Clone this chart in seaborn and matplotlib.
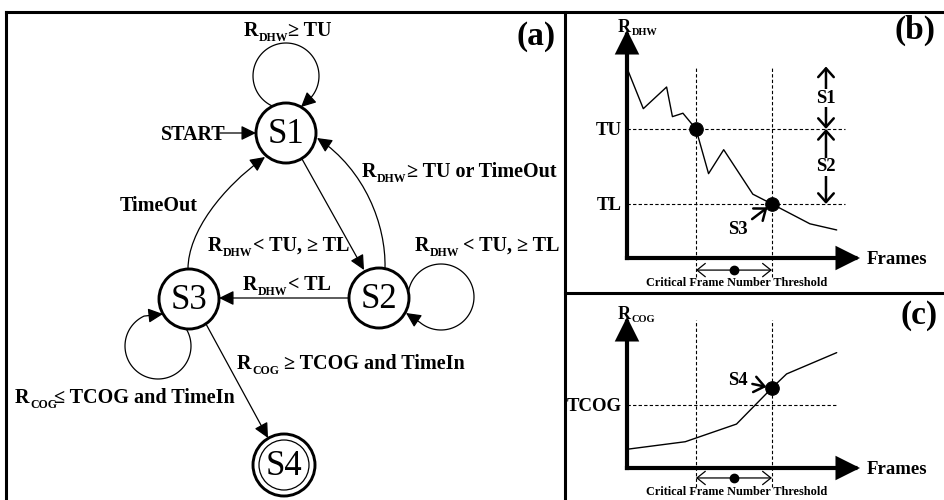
import matplotlib
matplotlib.use("Agg")
import matplotlib.pyplot as plt
import matplotlib.transforms as mtrans
from matplotlib.patches import Circle, FancyArrowPatch
from matplotlib.path import Path
import numpy as np
import seaborn as sns

sns.set_theme(style="white")
plt.rcParams["font.family"] = ["Liberation Serif", "DejaVu Serif"]
plt.rcParams["text.color"] = "black"

# ---------------- data ----------------
frames_b = [0.5, 7, 17, 19.5, 24, 29.6, 35, 41.5, 54, 62.2, 78.5, 90]
r_dhw = [82, 65.5, 75, 62, 63.5, 56.6, 37, 47.5, 28, 23.7, 15, 12.3]
frames_c = [0, 25, 47, 62.2, 68.5, 90]
r_cog = [12.4, 17.4, 29.1, 53, 62.3, 76.4]
TU, TL, TCOG = 56.6, 23.7, 41.7
frame_window = [29.6, 62.2]
state_names = ["S1", "S2", "S3", "S4"]
axis_names_b = ("R", "DHW")
axis_names_c = ("R", "COG")
x_label = "Frames"
window_label = "Critical Frame Number Threshold"
panel_labels = ["(a)", "(b)", "(c)"]

# ---------------- figure ----------------
fig = plt.figure(figsize=(9.45, 5.0), dpi=100)
bg = fig.add_axes([0, 0, 1, 1])
bg.set_xlim(0, 945)
bg.set_ylim(500, 0)
bg.axis("off")
renderer = fig.canvas.get_renderer()

LBL = 14.5
SUB = 8.5


def rich(ax, x, y, pieces, ha="left", dx=0, dy=0, zorder=8):
    X, Y = ax.transData.transform((x, y))
    X += dx
    Y -= dy
    arts = []
    for txt, fs, ddy, gap in pieces:
        t = fig.text(0, 0, txt, fontsize=fs, fontweight="bold", va="baseline",
                     ha="left", color="black",
                     transform=mtrans.IdentityTransform(), zorder=zorder)
        w = t.get_window_extent(renderer).width
        arts.append((t, w, ddy, gap))
    total = sum(w + g for _, w, _, g in arts)
    cur = X if ha == "left" else (X - total / 2 if ha == "center" else X - total)
    for t, w, ddy, gap in arts:
        cur += gap
        t.set_position((cur, Y - ddy))
        cur += w + 0.5


def sub_label(rest, sub="DHW", gap=0):
    return [("R", LBL, 0, 0), (sub, SUB, 5, 0), (rest, LBL, 0, gap)]


# frames of panels
for xs, ys in [((6, 945), (12, 12)), ((6, 6), (12, 502)), ((565, 565), (12, 502)),
               ((565, 945), (293, 293))]:
    bg.plot(xs, ys, color="black", lw=2.2, solid_capstyle="projecting")

# ---------------- panel (a): state machine ----------------
node_pos = {"S1": (286, 133), "S2": (379, 298), "S3": (189, 299), "S4": (284, 465)}
R = 30
head = "-|>,head_length=0.45,head_width=0.22"
for name in state_names:
    x, y = node_pos[name]
    r = R + 1 if name == "S4" else R
    bg.add_patch(Circle((x, y), r, fc="white", ec="black", lw=2.1, zorder=5))
    if name == "S4":
        bg.add_patch(Circle((x, y), 25, fc="none", ec="black", lw=0.9, zorder=5))
    bg.text(x, y + 10, name, fontsize=25, ha="center", va="baseline", zorder=6)


def straight(p0, p1):
    bg.add_patch(FancyArrowPatch(p0, p1, arrowstyle=head, mutation_scale=20, lw=0.9,
                                 color="black", shrinkA=0, shrinkB=0, zorder=7))


def curve(pts):
    path = Path(pts, [Path.MOVETO, Path.CURVE4, Path.CURVE4, Path.CURVE4])
    bg.add_patch(FancyArrowPatch(path=path, arrowstyle=head, mutation_scale=20, lw=0.9,
                                 color="black", zorder=7))


def loop(center, r, t0, t1, tip):
    t = np.radians(np.linspace(t0, t1, 80))
    pts = list(zip(center[0] + r * np.cos(t), center[1] + r * np.sin(t))) + [tip]
    bg.add_patch(FancyArrowPatch(path=Path(pts), arrowstyle=head, mutation_scale=20,
                                 lw=0.9, color="black", zorder=7))


straight((220, 133), (256, 133))                 # START
straight((302, 159), (364, 270))                 # S1 -> S2
straight((349, 298), (219, 298))                 # S2 -> S3
straight((206, 324), (268, 438))                 # S3 -> S4
curve([(385, 268), (386, 225), (365, 170), (317, 138)])   # S2 -> S1
curve([(188, 269), (188, 232), (222, 188), (265, 157)])   # S3 -> S1
loop((286, 76), 33, 114, 410, (301, 107))        # S1 self
loop((441, 297), 33, 190, 490, (406, 313))       # S2 self
loop((158, 346), 33, -31, 245, (163, 314))       # S3 self

bg.text(226, 140, "START", fontsize=LBL, fontweight="bold", ha="right", va="baseline", zorder=8)
bg.text(120, 211, "TimeOut", fontsize=LBL, fontweight="bold", ha="left", va="baseline", zorder=8)
rich(bg, 287, 36, sub_label("≥ TU"), ha="center")
rich(bg, 362, 177, sub_label("≥ TU or TimeOut"))
rich(bg, 208, 251, sub_label("< TU, ≥ TL"))
rich(bg, 415, 251, sub_label("< TU, ≥ TL", gap=3))
rich(bg, 243, 290, sub_label("< TL"))
rich(bg, 237, 369, sub_label("≥ TCOG and TimeIn", sub="COG", gap=5))
rich(bg, 15, 403, sub_label("≤ TCOG and TimeIn", sub="COG", gap=-4))

bg.text(556, 45, panel_labels[0], fontsize=24, fontweight="bold", ha="right", va="baseline")
bg.text(935, 39, panel_labels[1], fontsize=24, fontweight="bold", ha="right", va="baseline")
bg.text(938, 324, panel_labels[2], fontsize=24, fontweight="bold", ha="right", va="baseline")

# ---------------- panels (b) and (c) ----------------
ax_b = fig.add_axes([627 / 945, (500 - 258) / 500, 233 / 945, 228 / 500])
ax_c = fig.add_axes([627 / 945, (500 - 468) / 500, 233 / 945, 151 / 500])

dash = (0, (3, 2))
axis_arrow = "-|>,head_length=0.4,head_width=0.2"


def frame_axes(ax, ylab, thresholds, hline_end, vtop, vbot, arrow_y, text_y):
    ax.set_xlim(0, 100)
    ax.set_ylim(0, 100)
    ax.axis("off")
    for xy in [(100, 0), (0, 100)]:
        ax.annotate("", xy=xy, xytext=(0, 0), annotation_clip=False,
                    arrowprops=dict(arrowstyle=axis_arrow, lw=3, color="black",
                                    mutation_scale=32, shrinkA=0, shrinkB=0,
                                    joinstyle="miter", capstyle="projecting"))
    for name, val in thresholds:
        ax.plot([0, hline_end], [val, val], color="black", lw=0.8, ls=dash, clip_on=False)
        off = mtrans.offset_copy(ax.transData, fig=fig, x=-5, y=-6, units="dots")
        ax.text(0, val, name, transform=off, fontsize=13.5, fontweight="bold",
                ha="right", va="baseline")
    for f in frame_window:
        ax.plot([f, f], [vbot, vtop], color="black", lw=0.8, ls=dash, clip_on=False)
    ax.annotate("", xy=(frame_window[1], arrow_y), xytext=(frame_window[0], arrow_y),
                annotation_clip=False,
                arrowprops=dict(arrowstyle="<->,head_length=0.5,head_width=0.4",
                                mutation_scale=12, lw=0.9, color="black",
                                shrinkA=0, shrinkB=0))
    mid = sum(frame_window) / 2
    ax.plot([mid], [arrow_y], "o", color="black", ms=6, clip_on=False)
    ax.text(mid + 1, text_y, window_label, fontsize=8.8, fontweight="bold",
            ha="center", va="center")
    offx = mtrans.offset_copy(ax.transData, fig=fig, x=7, y=-6, units="dots")
    ax.text(100, 0, x_label, transform=offx, fontsize=13.5, fontweight="bold",
            ha="left", va="baseline")
    rich(ax, 0, 100, [(ylab[0], 13, 0, 0), (ylab[1], 7.5, 3, 0)], dx=-9, dy=2)


# (b)
sns.lineplot(x=frames_b, y=r_dhw, ax=ax_b, color="black", lw=1.0)
sns.scatterplot(x=frame_window, y=[TU, TL], ax=ax_b, color="black", s=95,
                edgecolor="black", zorder=5)
frame_axes(ax_b, axis_names_b, [("TU", TU), ("TL", TL)], 93.6, 84, -8.3, -5.3, -11)

region_top = 84
for name, lo, hi in [("S1", TU, region_top), ("S2", TL, TU)]:
    ax_b.annotate("", xy=(85.4, hi), xytext=(85.4, lo), annotation_clip=False,
                  arrowprops=dict(arrowstyle="<->,head_length=0.45,head_width=0.4",
                                  mutation_scale=14, lw=1.8, color="black",
                                  shrinkA=0, shrinkB=0))
    offs = mtrans.offset_copy(ax_b.transData, fig=fig, x=0, y=-5, units="dots")
    ax_b.text(85.4, (lo + hi) / 2, name, transform=offs, fontsize=13.5,
              fontweight="bold", ha="center", va="baseline", zorder=6,
              bbox=dict(fc="white", ec="none", pad=0.5))

ax_b.annotate("S3", xy=(frame_window[1], TL), xytext=(-34, -26),
              textcoords="offset pixels", fontsize=13.5, fontweight="bold",
              ha="center", va="center", annotation_clip=False,
              arrowprops=dict(arrowstyle="->,head_length=0.45,head_width=0.35",
                              mutation_scale=16, lw=1.8, color="black",
                              shrinkA=1, shrinkB=4))

# (c)
sns.lineplot(x=frames_c, y=r_cog, ax=ax_c, color="black", lw=1.0)
s4_val = r_cog[frames_c.index(frame_window[1])]
sns.scatterplot(x=[frame_window[1]], y=[s4_val], ax=ax_c, color="black", s=95,
                edgecolor="black", zorder=5)
frame_axes(ax_c, axis_names_c, [("TCOG", TCOG)], 90.6, 98, -12.6, -6.6, -15.9)
ax_c.annotate("S4", xy=(frame_window[1], s4_val), xytext=(-34, 7),
              textcoords="offset pixels", fontsize=13.5, fontweight="bold",
              ha="center", va="center", annotation_clip=False,
              arrowprops=dict(arrowstyle="->,head_length=0.45,head_width=0.35",
                              mutation_scale=16, lw=1.8, color="black",
                              shrinkA=1, shrinkB=4))

fig.savefig("out.png", dpi=100, facecolor="white")
